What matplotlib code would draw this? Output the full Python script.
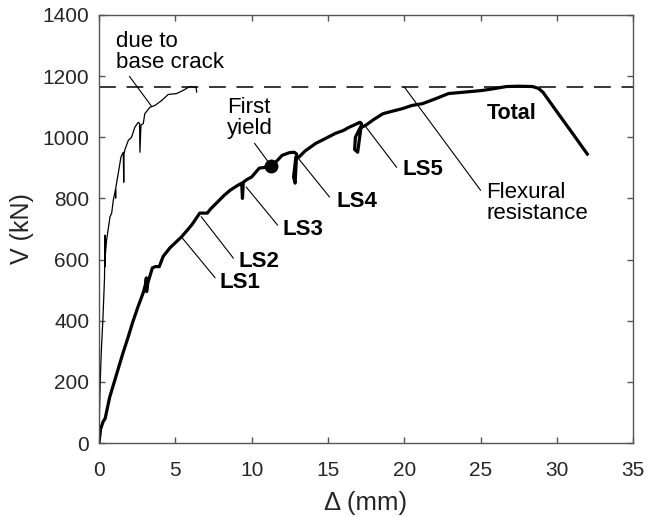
import matplotlib.pyplot as plt

plt.rcParams['font.family'] = ['Liberation Sans', 'DejaVu Sans']

# curva total (com os laços de descarga em LS3, LS4 e LS5)
total_x = [0, 0.1, 0.27, 0.4, 0.7, 1.05, 1.3, 1.58, 1.9, 2.2, 2.55, 2.9, 3.05, 3.1, 3.12, 3.2,
           3.5, 3.7, 3.95, 4.2, 4.64, 5.0, 5.4, 5.8, 6.1, 6.6, 7.1, 7.3, 7.7, 8.2, 8.6,
           9.0, 9.35, 9.4, 9.45, 9.5, 9.7, 10.0, 10.5, 11.3, 11.7, 12.0, 12.5, 12.8,
           12.95, 12.85, 12.75, 12.9, 13.1, 13.5, 14.2, 14.8, 15.5, 16.0, 16.4, 16.8,
           17.1, 17.2, 16.95, 16.75, 16.8, 17.1, 17.5, 18.0, 18.6, 19.2, 19.9, 20.5,
           21.2, 22.0, 22.9, 24.0, 25.1, 26.0, 26.7, 27.5, 28.4, 28.8, 29.1, 30.0,
           31.0, 32.0]
total_v = [0, 45, 70, 80, 150, 208, 250, 296, 345, 394, 445, 492, 520, 540, 495, 524,
           573, 577, 577, 610, 638, 655, 674, 697, 715, 752, 752, 765, 785, 810, 827,
           840, 850, 800, 850, 855, 862, 870, 899, 905, 925, 941, 950, 951,
           945, 850, 870, 935, 935, 955, 980, 995, 1013, 1022, 1033, 1042,
           1049, 1045, 951, 960, 1000, 1030, 1040, 1058, 1077, 1085, 1094, 1104,
           1110, 1125, 1143, 1148, 1153, 1160, 1166, 1167, 1166, 1160, 1147, 1084,
           1015, 945]

# curva fina "due to base crack"
base_x = [0, 0.03, 0.08, 0.15, 0.25, 0.33, 0.36, 0.39, 0.39, 0.42, 0.5, 0.72, 0.83,
          0.94, 1.08, 1.09, 1.1, 1.26, 1.44, 1.59, 1.62, 1.64, 1.7, 1.92, 2.13, 2.35,
          2.57, 2.66, 2.68, 2.75, 2.9, 3.0, 3.33, 3.66, 4.1, 4.53, 5.08, 5.5, 5.95,
          6.27, 6.35, 6.4]
base_v = [0, 100, 200, 300, 400, 500, 540, 680, 577, 620, 665, 740, 752,
          795, 829, 801, 835, 882, 936, 951, 853, 945, 960, 990, 1000, 1033,
          1049, 1045, 951, 1040, 1045, 1077, 1098, 1104, 1120, 1140, 1143, 1153, 1166,
          1164, 1165, 1148]

resistencia_flexao = 1165
primeiro_escoamento = (11.3, 905)

# rótulos: (texto, ponta da linha, fim da linha, posição do texto)
rotulos = [
    ('LS1', (5.4, 674), (7.6, 541), (7.9, 524)),
    ('LS2', (6.7, 740), (8.8, 605), (9.15, 593)),
    ('LS3', (9.65, 837), (11.7, 713), (12.0, 700)),
    ('LS4', (12.9, 941), (15.1, 805), (15.55, 791)),
    ('LS5', (17.5, 1033), (19.5, 902), (19.9, 896)),
]

fig = plt.figure(figsize=(6.48, 5.17), dpi=100)
ax = fig.add_axes([0.1528, 0.1431, 0.8242, 0.8279])

ax.plot(base_x, base_v, color='black', lw=0.9)
ax.plot(total_x, total_v, color='black', lw=2.3, solid_joinstyle='round')
ax.axhline(resistencia_flexao, color='black', lw=1.1, dashes=(11, 7))
ax.plot(*primeiro_escoamento, 'o', color='black', ms=9)

for texto, p1, p2, pt in rotulos:
    ax.plot([p1[0], p2[0]], [p1[1], p2[1]], color='black', lw=0.8)
    ax.text(pt[0], pt[1], texto, fontsize=16, fontweight='bold', va='center', ha='left')

# textos explicativos
ax.plot([2.0, 3.45], [1199, 1101], color='black', lw=0.8)
ax.text(1.1, 1280, 'due to\nbase crack', fontsize=16, va='center', ha='left', linespacing=1.0)
ax.plot([10.2, 11.3], [980, 905], color='black', lw=0.8)
ax.text(8.4, 1063, 'First\nyield', fontsize=16, va='center', ha='left', linespacing=1.0)
ax.plot([20.0, 25.0], [1165, 827], color='black', lw=0.8)
ax.text(25.4, 785, 'Flexural\nresistance', fontsize=16, va='center', ha='left', linespacing=1.0)
ax.text(25.4, 1078, 'Total', fontsize=15.5, fontweight='bold', va='center', ha='left')

ax.set_xlim(0, 35)
ax.set_ylim(0, 1400)
ax.set_xticks(range(0, 36, 5))
ax.set_yticks(range(0, 1401, 200))
ax.set_xlabel('Δ (mm)', fontsize=18.5, color='#262626', labelpad=8)
ax.set_ylabel('V (kN)', fontsize=18, color='#262626', labelpad=6)

for lado in ax.spines.values():
    lado.set_color('#555555')
    lado.set_linewidth(1.0)
ax.tick_params(direction='in', top=True, right=True, length=4, width=1.0,
               color='#555555', labelsize=15, labelcolor='#262626')
ax.tick_params(axis='x', pad=13)
ax.tick_params(axis='y', pad=7)

fig.savefig('out.png', dpi=100)
